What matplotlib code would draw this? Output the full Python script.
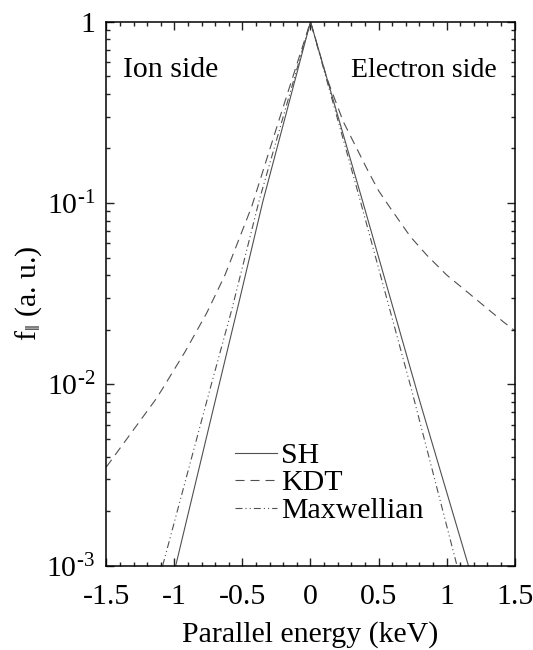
import matplotlib
matplotlib.use("Agg")
import matplotlib.pyplot as plt
from matplotlib.ticker import FixedLocator, NullFormatter, LogLocator

plt.rcParams['font.family'] = ['Liberation Serif', 'DejaVu Serif']
plt.rcParams['mathtext.fontset'] = 'custom'
plt.rcParams['mathtext.rm'] = 'Liberation Serif'
plt.rcParams['mathtext.it'] = 'Liberation Serif'
plt.rcParams['mathtext.bf'] = 'Liberation Serif'
plt.rcParams['axes.unicode_minus'] = False
plt.rcParams['lines.scale_dashes'] = False

# ---- data ----
sh_energy = [-0.99, -0.70, -0.52, -0.35, 0.0, 0.38, 0.80, 1.16]
sh_f = [0.001, 0.0081, 0.0295, 0.102, 1.0, 0.104, 0.0082, 0.001]

kdt_energy = [-1.5, -1.14, -1.093, -0.922, -0.763, -0.628, -0.432, -0.22, 0.0,
              0.12, 0.241, 0.425, 0.5, 0.59, 0.734, 0.854, 1.0, 1.135, 1.282, 1.417, 1.5]
kdt_f = [0.0035, 0.0082, 0.0093, 0.0151, 0.0247, 0.0401, 0.0955, 0.305, 1.0,
         0.488, 0.281, 0.149, 0.117, 0.093, 0.0652, 0.0516, 0.0401, 0.0331, 0.0268, 0.0221, 0.0198]

max_energy = [-1.086, -0.74, -0.579, -0.376, 0.0, 0.364, 0.743, 1.076]
max_f = [0.001, 0.0093, 0.0257, 0.104, 1.0, 0.104, 0.0093, 0.001]

series_labels = ['SH', 'KDT', 'Maxwellian']
xtick_vals = [-1.5, -1.0, -0.5, 0.0, 0.5, 1.0, 1.5]
xtick_labels = ['-1.5', '-1', '-0.5', '0', '0.5', '1', '1.5']
ytick_vals = [1e-3, 1e-2, 1e-1, 1.0]
ytick_labels = [r'$\mathregular{10^{\text{-}3}}$', r'$\mathregular{10^{\text{-}2}}$',
                r'$\mathregular{10^{\text{-}1}}$', '1']

FS = 21.5

fig = plt.figure(figsize=(5.33, 6.5), dpi=100)
ax = fig.add_axes([0.1994, 0.1297, 0.7663, 0.8369])

lc = '#505050'
lw = 0.8
ax.plot(sh_energy, sh_f, color=lc, lw=lw, ls='-', label=series_labels[0])
ax.plot(kdt_energy, kdt_f, color=lc, lw=lw, dashes=(6.5, 4.3), label=series_labels[1])
ax.plot(max_energy, max_f, color=lc, lw=lw, dashes=(5, 2.2, 0.8, 2.2, 0.8, 2.2), label=series_labels[2])

ax.set_yscale('log')
ax.set_xlim(-1.5, 1.5)
ax.set_ylim(1e-3, 1.0)

ax.set_xticks(xtick_vals)
ax.set_xticklabels(xtick_labels)
ax.xaxis.set_minor_locator(FixedLocator([i / 10 for i in range(-15, 16)]))
ax.set_yticks(ytick_vals)
ax.set_yticklabels(ytick_labels)
ax.yaxis.set_minor_locator(LogLocator(base=10, subs=range(2, 10)))
ax.yaxis.set_minor_formatter(NullFormatter())

ax.tick_params(which='both', direction='in', top=True, right=True, width=1.0, color='#222222')
ax.tick_params(which='major', length=5.5)
ax.tick_params(which='minor', length=3.0)
ax.tick_params(axis='x', which='major', labelsize=FS, pad=13)
ax.tick_params(axis='y', which='major', labelsize=FS, pad=8)
for s in ax.spines.values():
    s.set_linewidth(1.1)

ax.set_xlabel('Parallel energy (keV)', fontsize=FS, labelpad=8)
ax.set_ylabel(r'$\mathregular{f_{\Vert}}$ (a. u.)', fontsize=FS, labelpad=2)

ax.text(0.04, 0.899, 'Ion side', transform=ax.transAxes, fontsize=FS, ha='left', va='baseline')
ax.text(0.956, 0.899, 'Electron side', transform=ax.transAxes, fontsize=20.0, ha='right', va='baseline')

leg = ax.legend(loc='center left', bbox_to_anchor=(0.315, 0.152), frameon=False,
                fontsize=FS, handlelength=1.4, handletextpad=0.15, labelspacing=0.02,
                borderpad=0, borderaxespad=0)

fig.savefig('out.png', dpi=100)
